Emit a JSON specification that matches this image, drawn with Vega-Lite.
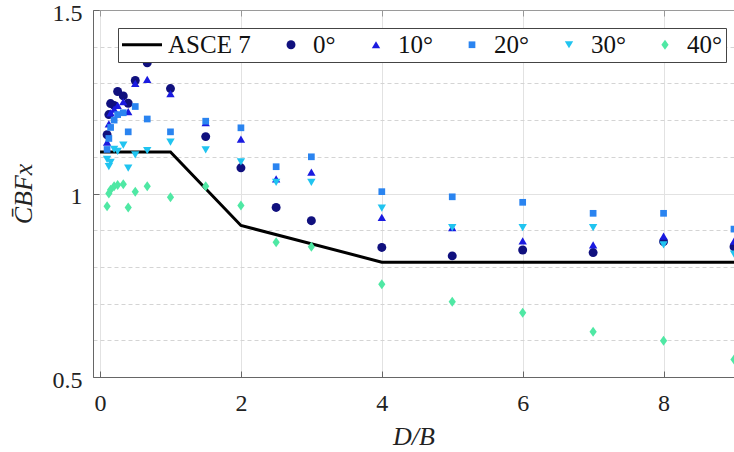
{
  "$schema": "https://vega.github.io/schema/vega-lite/v6.json",
  "width": 641,
  "height": 367,
  "autosize": {"type": "none"},
  "padding": {"left": 93, "top": 10, "right": 0, "bottom": 75},
  "background": "white",
  "config": {
    "view": {"stroke": "#9a9a9a", "strokeWidth": 1},
    "font": "Liberation Serif"
  },
  "datasets": {
    "pts": [
      {"x": 0.1, "y": 1.16, "series": "0°"},
      {"x": 0.125, "y": 1.215, "series": "0°"},
      {"x": 0.15, "y": 1.245, "series": "0°"},
      {"x": 0.2, "y": 1.24, "series": "0°"},
      {"x": 0.25, "y": 1.278, "series": "0°"},
      {"x": 0.33, "y": 1.266, "series": "0°"},
      {"x": 0.4, "y": 1.246, "series": "0°"},
      {"x": 0.5, "y": 1.308, "series": "0°"},
      {"x": 0.67, "y": 1.356, "series": "0°"},
      {"x": 1, "y": 1.286, "series": "0°"},
      {"x": 1.5, "y": 1.155, "series": "0°"},
      {"x": 2, "y": 1.07, "series": "0°"},
      {"x": 2.5, "y": 0.962, "series": "0°"},
      {"x": 3, "y": 0.926, "series": "0°"},
      {"x": 4, "y": 0.853, "series": "0°"},
      {"x": 5, "y": 0.83, "series": "0°"},
      {"x": 6, "y": 0.846, "series": "0°"},
      {"x": 7, "y": 0.839, "series": "0°"},
      {"x": 8, "y": 0.869, "series": "0°"},
      {"x": 9, "y": 0.855, "series": "0°"},
      {"x": 0.1, "y": 1.14, "series": "10°"},
      {"x": 0.125, "y": 1.19, "series": "10°"},
      {"x": 0.15, "y": 1.22, "series": "10°"},
      {"x": 0.2, "y": 1.23, "series": "10°"},
      {"x": 0.25, "y": 1.24, "series": "10°"},
      {"x": 0.33, "y": 1.25, "series": "10°"},
      {"x": 0.4, "y": 1.223, "series": "10°"},
      {"x": 0.5, "y": 1.3, "series": "10°"},
      {"x": 0.67, "y": 1.311, "series": "10°"},
      {"x": 1, "y": 1.272, "series": "10°"},
      {"x": 1.5, "y": 1.193, "series": "10°"},
      {"x": 2, "y": 1.148, "series": "10°"},
      {"x": 2.5, "y": 1.04, "series": "10°"},
      {"x": 3, "y": 1.058, "series": "10°"},
      {"x": 4, "y": 0.935, "series": "10°"},
      {"x": 5, "y": 0.907, "series": "10°"},
      {"x": 6, "y": 0.871, "series": "10°"},
      {"x": 7, "y": 0.86, "series": "10°"},
      {"x": 8, "y": 0.884, "series": "10°"},
      {"x": 9, "y": 0.87, "series": "10°"},
      {"x": 0.1, "y": 1.12, "series": "20°"},
      {"x": 0.125, "y": 1.15, "series": "20°"},
      {"x": 0.15, "y": 1.18, "series": "20°"},
      {"x": 0.2, "y": 1.2, "series": "20°"},
      {"x": 0.25, "y": 1.215, "series": "20°"},
      {"x": 0.33, "y": 1.22, "series": "20°"},
      {"x": 0.4, "y": 1.168, "series": "20°"},
      {"x": 0.5, "y": 1.237, "series": "20°"},
      {"x": 0.67, "y": 1.203, "series": "20°"},
      {"x": 1, "y": 1.168, "series": "20°"},
      {"x": 1.5, "y": 1.197, "series": "20°"},
      {"x": 2, "y": 1.179, "series": "20°"},
      {"x": 2.5, "y": 1.073, "series": "20°"},
      {"x": 3, "y": 1.1, "series": "20°"},
      {"x": 4, "y": 1.005, "series": "20°"},
      {"x": 5, "y": 0.991, "series": "20°"},
      {"x": 6, "y": 0.976, "series": "20°"},
      {"x": 7, "y": 0.946, "series": "20°"},
      {"x": 8, "y": 0.946, "series": "20°"},
      {"x": 9, "y": 0.903, "series": "20°"},
      {"x": 0.1, "y": 1.093, "series": "30°"},
      {"x": 0.125, "y": 1.073, "series": "30°"},
      {"x": 0.15, "y": 1.085, "series": "30°"},
      {"x": 0.2, "y": 1.12, "series": "30°"},
      {"x": 0.25, "y": 1.115, "series": "30°"},
      {"x": 0.33, "y": 1.132, "series": "30°"},
      {"x": 0.4, "y": 1.069, "series": "30°"},
      {"x": 0.5, "y": 1.105, "series": "30°"},
      {"x": 0.67, "y": 1.117, "series": "30°"},
      {"x": 1, "y": 1.14, "series": "30°"},
      {"x": 1.5, "y": 1.119, "series": "30°"},
      {"x": 2, "y": 1.086, "series": "30°"},
      {"x": 2.5, "y": 1.03, "series": "30°"},
      {"x": 3, "y": 1.03, "series": "30°"},
      {"x": 4, "y": 0.96, "series": "30°"},
      {"x": 5, "y": 0.907, "series": "30°"},
      {"x": 6, "y": 0.907, "series": "30°"},
      {"x": 7, "y": 0.907, "series": "30°"},
      {"x": 8, "y": 0.86, "series": "30°"},
      {"x": 9, "y": 0.835, "series": "30°"},
      {"x": 0.1, "y": 0.965, "series": "40°"},
      {"x": 0.125, "y": 1.0, "series": "40°"},
      {"x": 0.15, "y": 1.01, "series": "40°"},
      {"x": 0.2, "y": 1.02, "series": "40°"},
      {"x": 0.25, "y": 1.023, "series": "40°"},
      {"x": 0.33, "y": 1.025, "series": "40°"},
      {"x": 0.4, "y": 0.962, "series": "40°"},
      {"x": 0.5, "y": 1.005, "series": "40°"},
      {"x": 0.67, "y": 1.02, "series": "40°"},
      {"x": 1, "y": 0.99, "series": "40°"},
      {"x": 1.5, "y": 1.02, "series": "40°"},
      {"x": 2, "y": 0.967, "series": "40°"},
      {"x": 2.5, "y": 0.867, "series": "40°"},
      {"x": 3, "y": 0.855, "series": "40°"},
      {"x": 4, "y": 0.753, "series": "40°"},
      {"x": 5, "y": 0.705, "series": "40°"},
      {"x": 6, "y": 0.675, "series": "40°"},
      {"x": 7, "y": 0.623, "series": "40°"},
      {"x": 8, "y": 0.599, "series": "40°"},
      {"x": 9, "y": 0.548, "series": "40°"}
    ],
    "asce": [
      {"x": 0, "y": 1.113, "series": "ASCE 7"},
      {"x": 1, "y": 1.113, "series": "ASCE 7"},
      {"x": 2, "y": 0.913, "series": "ASCE 7"},
      {"x": 4, "y": 0.813, "series": "ASCE 7"},
      {"x": 10, "y": 0.813, "series": "ASCE 7"}
    ]
  },
  "resolve": {"axis": {"x": "independent", "y": "independent"}},
  "layer": [
    {
      "data": {"name": "asce"},
      "mark": {"type": "line", "strokeWidth": 3, "clip": true},
      "encoding": {
        "x": {
          "field": "x", "type": "quantitative",
          "scale": {"domain": [-0.1, 9], "nice": false, "zero": false},
          "axis": {
            "orient": "bottom", "values": [0, 2, 4, 6, 8], "title": "D/B",
            "titleFont": "Liberation Serif", "titleFontStyle": "italic", "titleFontWeight": "normal",
            "titleFontSize": 26, "titleColor": "#222", "titlePadding": 8,
            "labelFont": "Liberation Serif", "labelFontSize": 24, "labelColor": "#222",
            "labelPadding": 20, "tickSize": -6, "tickColor": "#666",
            "domainColor": "#666", "grid": true, "gridColor": "#e2e2e2", "gridWidth": 1
          }
        },
        "y": {
          "field": "y", "type": "quantitative",
          "scale": {"domain": [0.5, 1.5], "nice": false, "zero": false},
          "axis": {
            "orient": "left", "values": [0.5, 1, 1.5], "format": "~g", "title": "C̄BFx",
            "titleFont": "Liberation Serif", "titleFontStyle": "italic", "titleFontWeight": "normal",
            "titleFontSize": 26, "titleColor": "#222", "titlePadding": 16,
            "labelFont": "Liberation Serif", "labelFontSize": 24, "labelColor": "#222",
            "labelPadding": 17, "labelOffset": 3, "tickSize": -6, "tickColor": "#666",
            "domainColor": "#666", "grid": true, "gridColor": "#e2e2e2", "gridWidth": 1
          }
        },
        "color": {
          "field": "series", "type": "nominal",
          "scale": {
            "domain": ["ASCE 7", "0°", "10°", "20°", "30°", "40°"],
            "range": ["#000000", "#10107e", "#1a1ae0", "#2a84f0", "#20c4f0", "#4fe8a4"]
          },
          "legend": {
            "title": null, "orient": "none", "legendX": 25, "legendY": 18,
            "direction": "horizontal",
            "labelFont": "Liberation Serif", "labelFontSize": 25, "labelColor": "#111",
            "strokeColor": "#444", "fillColor": "white", "padding": 4,
            "columnPadding": 35, "labelOffset": 6,
            "encode": {
              "symbols": {"update": {
                "x": {"signal": "datum.value === 'ASCE 7' ? 20 : 4"},
                "size": {"signal": "datum.value === 'ASCE 7' ? 1600 : 32"},
                "stroke": {"signal": "datum.value === 'ASCE 7' ? '#000' : 'transparent'"},
                "strokeWidth": {"signal": "datum.value === 'ASCE 7' ? 3 : 0"}
              }},
              "labels": {"update": {
                "x": {"signal": "datum.value === 'ASCE 7' ? 46 : 26"}
              }}
            }
          }
        }
      }
    },
    {
      "data": {"name": "pts"},
      "mark": {"type": "point", "filled": true, "opacity": 1, "clip": true},
      "encoding": {
        "x": {
          "field": "x", "type": "quantitative",
          "axis": {
            "orient": "top", "values": [0, 2, 4, 6, 8], "labels": false, "title": null,
            "tickSize": -6, "tickColor": "#999", "domainColor": "#9a9a9a", "grid": false
          }
        },
        "y": {
          "field": "y", "type": "quantitative",
          "axis": {
            "orient": "right", "values": [0.6, 0.7, 0.8, 0.9, 1.1, 1.2, 1.3, 1.4],
            "labels": false, "title": null, "ticks": false, "domain": false,
            "grid": true, "gridColor": "#d4d4d4", "gridDash": [4, 3], "gridWidth": 1
          }
        },
        "color": {"field": "series", "type": "nominal"},
        "shape": {
          "field": "series", "type": "nominal",
          "scale": {
            "domain": ["ASCE 7", "0°", "10°", "20°", "30°", "40°"],
            "range": ["stroke", "circle", "triangle-up", "square", "triangle-down", "M0,-1L0.72,0L0,1L-0.72,0Z"]
          }
        },
        "size": {
          "field": "series", "type": "nominal",
          "scale": {
            "type": "ordinal",
            "domain": ["ASCE 7", "0°", "10°", "20°", "30°", "40°"],
            "range": [1600, 80, 70, 45, 70, 100]
          }
        }
      }
    }
  ]
}
